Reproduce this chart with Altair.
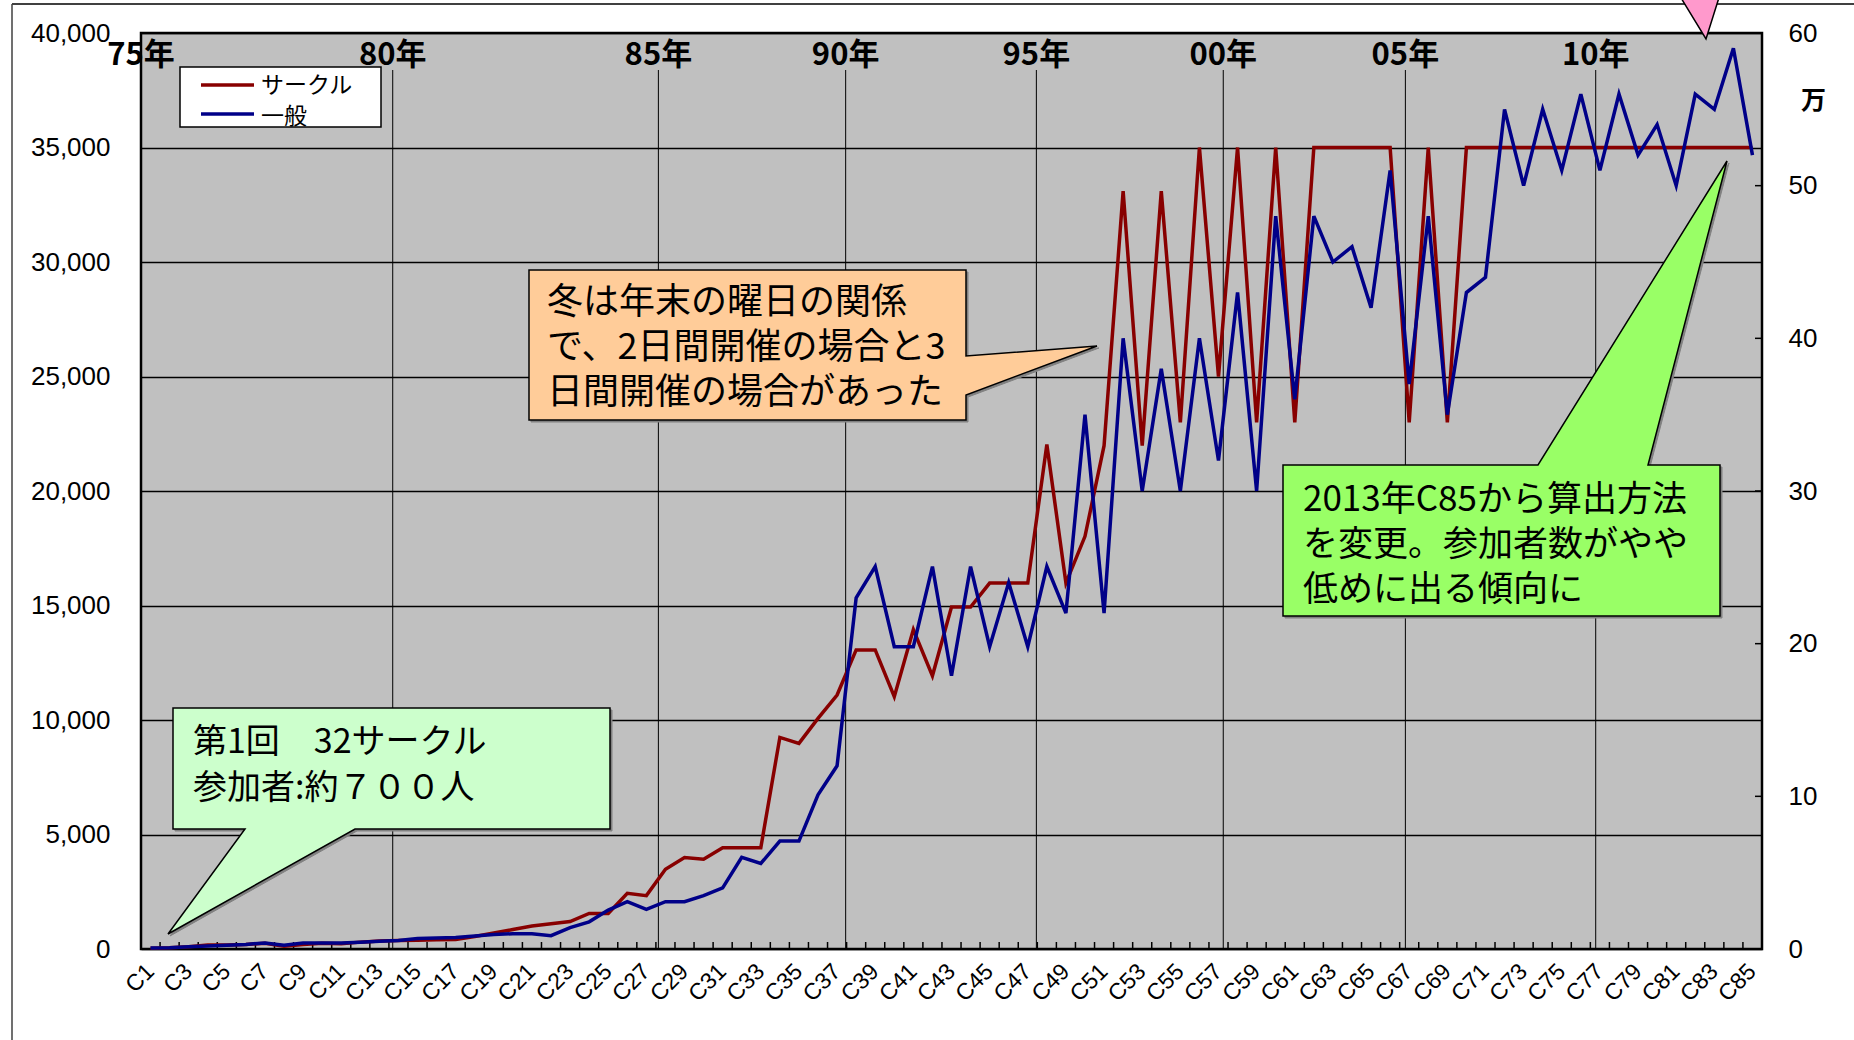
import altair as alt
import pandas as pd

# ---- data -----------------------------------------------------------------
event_no = list(range(1, 86))  # C1 .. C85

# circles (left axis)
circles = [32, 50, 100, 170, 170, 200, 250, 120, 200, 250,
           230, 300, 350, 370, 380, 400, 420, 550, 700, 850,
           1000, 1100, 1200, 1550, 1550, 2430, 2330, 3480, 3990, 3920,
           4420, 4420, 4420, 9240, 8980, 10070, 11090, 13060, 13060, 11020,
           13950, 11930, 14930, 14930, 15980, 15980, 15980, 22030, 15980, 18020,
           21980, 33090, 21980, 33090, 23000, 35000, 25000, 35000, 23000, 35000,
           23000, 35000, 35000, 35000, 35000, 35000, 23000, 35000, 23000, 35000,
           35000, 35000, 35000, 35000, 35000, 35000, 35000, 35000, 35000, 35000,
           35000, 35000, 35000, 35000, 35000]

# general attendance in units of 10,000 (right axis)
visitors = [0.07, 0.08, 0.15, 0.2, 0.25, 0.3, 0.4, 0.25, 0.4, 0.4,
            0.4, 0.45, 0.5, 0.55, 0.68, 0.72, 0.75, 0.85, 0.95, 1.0,
            1.0, 0.87, 1.4, 1.78, 2.55, 3.1, 2.6, 3.1, 3.1, 3.5,
            4.0, 6.0, 5.6, 7.07, 7.07, 10.1, 12.0, 23.0, 25.05, 19.8,
            19.8, 25.05, 17.9, 25.05, 19.8, 24.0, 19.8, 25.05, 22.0, 35.0,
            22.0, 40.0, 30.0, 38.0, 30.0, 40.0, 32.0, 43.0, 30.0, 48.0,
            36.0, 48.0, 45.0, 46.0, 42.0, 51.0, 37.0, 48.0, 35.0, 43.0,
            44.0, 55.0, 50.0, 55.0, 51.0, 56.0, 51.0, 56.0, 52.0, 54.0,
            50.0, 56.0, 55.0, 59.0, 52.0]

series_names = ["サークル", "一般"]

# year markers: position in events counted from the left edge
year_labels = ["75年", "80年", "85年", "90年", "95年", "00年", "05年", "10年"]
year_bounds = [0, 13.2, 27.13, 36.95, 46.95, 56.75, 66.3, 76.28]

left_ticks = [0, 5000, 10000, 15000, 20000, 25000, 30000, 35000, 40000]
right_ticks = [0, 10, 20, 30, 40, 50, 60]
x_label_values = [n for n in event_no if n % 2 == 1]

note_first = ["第1回　32サークル", "参加者:約７００人"]
note_winter = ["冬は年末の曜日の関係", "で、2日間開催の場合と3", "日間開催の場合があった"]
note_method = ["2013年C85から算出方法", "を変更。参加者数がやや", "低めに出る傾向に"]

# ---- styling ----------------------------------------------------------------
RED = "#880000"
BLUE = "#000088"
JP = "Noto Sans CJK JP"
NUM = "Liberation Sans"
W, H = 1621, 916

df = pd.DataFrame({"no": event_no, "circles": circles, "visitors": visitors})
one = pd.DataFrame({"k": [0]})

X = alt.Scale(domain=[0.5, 85.5], nice=False, zero=False)
YL = alt.Scale(domain=[0, 40000], nice=False)
YR = alt.Scale(domain=[0, 60], nice=False)

red_line = alt.Chart(df).mark_line(color=RED, strokeWidth=3.5).encode(
    x=alt.X("no:Q", scale=X, axis=alt.Axis(
        labels=False, ticks=False, grid=False, domainColor="black", domainWidth=3.5,
        zindex=1, title=None)),
    y=alt.Y("circles:Q", scale=YL, axis=alt.Axis(
        orient="left", values=left_ticks, format=",.0f", grid=True, gridColor="black",
        gridWidth=1.5, gridOpacity=1, tickSize=0, ticks=False, domain=False,
        labelPadding=31, labelFont=NUM, labelFontSize=26, labelColor="black",
        title=None)),
)

blue_line = alt.Chart(df).mark_line(color=BLUE, strokeWidth=3.5).encode(
    x=alt.X("no:Q", scale=X, axis=None),
    y=alt.Y("visitors:Q", scale=YR, axis=alt.Axis(
        orient="right", values=right_ticks, grid=False, tickSize=0, ticks=False,
        domain=False, labelPadding=26, labelFont=NUM, labelFontSize=26,
        labelColor="black", zindex=1,
        title="万", titleAngle=0, titleX=51, titleY=67, titleFont=JP,
        titleFontSize=25, titleFontWeight="bold", titleAlign="center",
        titleBaseline="middle", titleColor="black")),
)

# slanted event labels under the horizontal axis
x_labels = alt.Chart(pd.DataFrame({"no": x_label_values})).transform_calculate(
    lab="'C' + datum.no").mark_text(
    angle=315, align="right", baseline="middle", font=NUM, fontSize=23,
    color="black").encode(
    x=alt.X("no:Q", scale=X, axis=None), y=alt.value(H + 19), text="lab:N")

right_tick_rules = alt.Chart(pd.DataFrame({"v": right_ticks[1:-1]})).mark_rule(
    color="black", strokeWidth=1.5).encode(
    y=alt.Y("v:Q", scale=YR, axis=None), x=alt.value(W - 7), x2=alt.value(W))

bottom_ticks = alt.Chart(pd.DataFrame({"b": [k + 0.5 for k in range(1, 85)]})).mark_rule(
    color="black", strokeWidth=1.5).encode(
    x=alt.X("b:Q", scale=X, axis=None), y=alt.value(H - 7), y2=alt.value(H))

years = pd.DataFrame({"label": year_labels, "pos": [b + 0.5 for b in year_bounds]})
year_rules = alt.Chart(years[years["pos"] > 0.5]).mark_rule(
    color="black", strokeWidth=1).encode(
    x=alt.X("pos:Q", scale=X, axis=None), y=alt.value(37), y2=alt.value(H))
year_text = alt.Chart(years).mark_text(
    font=JP, fontSize=31, fontWeight="bold", align="center", baseline="middle",
    color="black").encode(
    x=alt.X("pos:Q", scale=X, axis=None), y=alt.value(23), text="label:N")

# outer frame of the chart area (top and left edges)
frame_top = alt.Chart(one).mark_rule(color="#404040", strokeWidth=2).encode(
    x=alt.value(-129), x2=alt.value(1760), y=alt.value(-29))
frame_left = alt.Chart(one).mark_rule(color="#404040", strokeWidth=1.5).encode(
    x=alt.value(-129), y=alt.value(-29), y2=alt.value(1060))


def polygon(points, fill, stroke="black", width=1.5):
    path = "M" + " L".join(f"{px},{py}" for px, py in points) + " Z"
    return alt.Chart(one).mark_point(
        shape=path, size=4, filled=True, fill=fill, stroke=stroke,
        strokeWidth=width, opacity=1, fillOpacity=1, strokeOpacity=1).encode(
        x=alt.value(0), y=alt.value(0))


def callout(points, fill):
    shadow = [(px + 2, py + 2) for px, py in points]
    return [polygon(shadow, "#808080", "#808080", 1), polygon(points, fill)]


def text_block(lines, x0, y0, step, size):
    return [alt.Chart(one).mark_text(
        font=JP, fontSize=size, align="left", baseline="middle", color="black").encode(
        x=alt.value(x0), y=alt.value(y0 + i * step), text=alt.value(t))
        for i, t in enumerate(lines)]


first_box = [(32, 675), (469, 675), (469, 796), (214, 796), (27, 901), (104, 796), (32, 796)]
winter_box = [(388, 237), (825, 237), (825, 323), (956, 313), (825, 362), (825, 387), (388, 387)]
method_box = [(1142, 432), (1397, 432), (1586, 128), (1507, 432), (1579, 432), (1579, 583), (1142, 583)]
pink_tip = [(1534, -45), (1581, -45), (1565, 6)]

annotations = (
    callout(first_box, "#CCFFCC") + text_block(note_first, 52, 710, 46, 34)
    + callout(winter_box, "#FFCC99") + text_block(note_winter, 406, 270, 45, 36)
    + callout(method_box, "#99FF66") + text_block(note_method, 1162, 467, 45, 35)
    + [polygon(pink_tip, "#FF99CC")]
)

# legend
legend = [
    alt.Chart(one).mark_rect(fill="white", stroke="black", strokeWidth=1.5).encode(
        x=alt.value(39), x2=alt.value(240), y=alt.value(34), y2=alt.value(94)),
    alt.Chart(one).mark_rule(color=RED, strokeWidth=3.5).encode(
        x=alt.value(60), x2=alt.value(113), y=alt.value(52)),
    alt.Chart(one).mark_rule(color=BLUE, strokeWidth=3.5).encode(
        x=alt.value(60), x2=alt.value(113), y=alt.value(81)),
    alt.Chart(one).mark_text(font=JP, fontSize=23, align="left", baseline="middle",
                             color="black").encode(
        x=alt.value(120), y=alt.value(53), text=alt.value(series_names[0])),
    alt.Chart(one).mark_text(font=JP, fontSize=23, align="left", baseline="middle",
                             color="black").encode(
        x=alt.value(120), y=alt.value(84), text=alt.value(series_names[1])),
]

chart = alt.layer(
    frame_top, frame_left, year_rules, bottom_ticks, right_tick_rules,
    red_line, blue_line, year_text, x_labels, *annotations, *legend,
).resolve_scale(y="independent").properties(
    width=W, height=H,
    padding={"left": 141, "top": 33, "right": 92, "bottom": 91},
    autosize=alt.AutoSizeParams(type="none"),
    background="white",
).configure_view(
    fill="#C0C0C0", stroke="black", strokeWidth=2.5,
)

chart.save("out.html", embed_options={"renderer": "svg", "actions": False})
